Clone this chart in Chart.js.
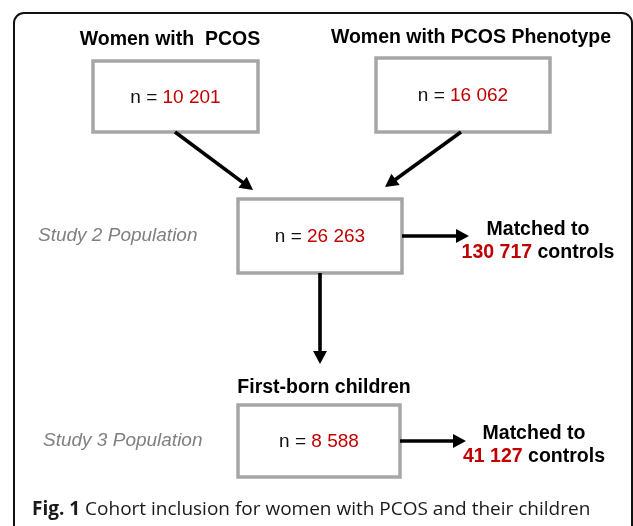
<!DOCTYPE html>
<html>
<head>
<meta charset="utf-8">
<script src="https://cdn.jsdelivr.net/npm/chart.js@4"></script>
<style>
  html, body { margin: 0; padding: 0; background: #ffffff; }
  #wrap { width: 633px; height: 526px; position: relative; }
</style>
</head>
<body>
<div id="wrap"><canvas id="flow"></canvas></div>
<script>
// cohort numbers
const groupTitles = ["Women with  PCOS", "Women with PCOS Phenotype", "", "First-born children"];
const groupCounts = [10201, 16062, 26263, 8588];
const studyLabels = ["Study 2 Population", "Study 3 Population"];
const controlCounts = [130717, 41127];
const captionLabel = "Fig. 1";
const captionText = "Cohort inclusion for women with PCOS and their children";

// layout (page units, same as the canvas)
const nodeX = [175.5, 463, 320, 319];
const nodeY = [96.5, 95, 236, 441];
const nodeW = [165, 174, 164, 162];
const nodeH = [71, 74, 74, 72];
const titleX = [170, 471, 0, 324];
const titleY = [40, 38, 0, 388];
const studyX = [38, 43];
const studyY = [236, 441];
const matchX = [538, 534];
const matchY = [230, 434];
const links = [
  [175, 132, 253, 190],
  [461, 132, 385, 187],
  [402, 236, 469, 236],
  [320, 273, 320, 364],
  [400, 441, 466, 441]
];

const RED = "#c00000";
const fmt = n => String(n).replace(/\B(?=(\d{3})+(?!\d))/g, " ");

function arrow(ctx, x1, y1, x2, y2) {
  const a = Math.atan2(y2 - y1, x2 - x1);
  const head = 13, half = 7;
  const bx = x2 - head * Math.cos(a), by = y2 - head * Math.sin(a);
  ctx.strokeStyle = "#000";
  ctx.lineWidth = 3.6;
  ctx.beginPath();
  ctx.moveTo(x1, y1);
  ctx.lineTo(bx + Math.cos(a), by + Math.sin(a));
  ctx.stroke();
  ctx.fillStyle = "#000";
  ctx.beginPath();
  ctx.moveTo(x2, y2);
  ctx.lineTo(bx + half * Math.sin(a), by - half * Math.cos(a));
  ctx.lineTo(bx - half * Math.sin(a), by + half * Math.cos(a));
  ctx.closePath();
  ctx.fill();
}

// draws text pieces one after the other, each with its own colour
function runs(ctx, parts, x, y, align) {
  let total = 0;
  parts.forEach(p => { ctx.font = p.font; total += ctx.measureText(p.text).width; });
  let cx = align === "center" ? x - total / 2 : x;
  ctx.textAlign = "left";
  parts.forEach(p => {
    ctx.font = p.font;
    ctx.fillStyle = p.color;
    ctx.fillText(p.text, cx, y);
    cx += ctx.measureText(p.text).width;
  });
}

const flowPlugin = {
  id: "flow",
  afterDraw(chart) {
    const ctx = chart.ctx;
    const sx = chart.scales.x, sy = chart.scales.y;
    const px = v => sx.getPixelForValue(v);
    const py = v => sy.getPixelForValue(v);
    const bold = "bold 19.5px 'Liberation Sans', Arial, sans-serif";
    const reg = "19px 'Liberation Sans', Arial, sans-serif";
    const ital = "italic 19px 'Liberation Sans', Arial, sans-serif";
    ctx.save();

    // outer frame
    ctx.strokeStyle = "#111";
    ctx.lineWidth = 2;
    ctx.beginPath();
    ctx.roundRect(px(14), py(13), px(632) - px(14), py(560) - py(13), 10);
    ctx.stroke();

    // boxes
    const meta = chart.getDatasetMeta(0);
    ctx.textBaseline = "middle";
    meta.data.forEach((pt, i) => {
      const w = px(nodeW[i]) - px(0), h = py(nodeH[i]) - py(0);
      ctx.fillStyle = "#fff";
      ctx.fillRect(pt.x - w / 2, pt.y - h / 2, w, h);
      ctx.strokeStyle = "#a6a6a6";
      ctx.lineWidth = 3.5;
      ctx.strokeRect(pt.x - w / 2, pt.y - h / 2, w, h);
      runs(ctx, [
        { text: "n = ", font: reg, color: "#111" },
        { text: fmt(groupCounts[i]), font: reg, color: RED }
      ], pt.x, pt.y + 1, "center");
      if (groupTitles[i]) {
        ctx.font = bold;
        ctx.fillStyle = "#000";
        ctx.textAlign = "center";
        ctx.fillText(groupTitles[i], px(titleX[i]), py(titleY[i]));
      }
    });

    links.forEach(l => arrow(ctx, px(l[0]), py(l[1]), px(l[2]), py(l[3])));

    studyLabels.forEach((s, i) => {
      ctx.font = ital;
      ctx.fillStyle = "#808080";
      ctx.textAlign = "left";
      ctx.fillText(s, px(studyX[i]), py(studyY[i]));
    });

    controlCounts.forEach((c, i) => {
      ctx.font = bold;
      ctx.fillStyle = "#000";
      ctx.textAlign = "center";
      ctx.fillText("Matched to", px(matchX[i]), py(matchY[i]));
      runs(ctx, [
        { text: fmt(c), font: bold, color: RED },
        { text: " controls", font: bold, color: "#000" }
      ], px(matchX[i]), py(matchY[i] + 22.5), "center");
    });

    // caption
    ctx.textBaseline = "alphabetic";
    runs(ctx, [
      { text: captionLabel + " ", font: "bold 19px 'Open Sans', sans-serif", color: "#1a1a1a" },
      { text: captionText, font: "19px 'Open Sans', sans-serif", color: "#1a1a1a" }
    ], px(32), py(515), "left");

    ctx.restore();
  }
};

new Chart(document.getElementById("flow"), {
  type: "scatter",
  data: {
    datasets: [{
      label: "Cohorts",
      data: groupCounts.map((n, i) => ({ x: nodeX[i], y: nodeY[i], n: n })),
      pointRadius: 0,
      pointHoverRadius: 0
    }]
  },
  options: {
    responsive: true,
    maintainAspectRatio: false,
    animation: false,
    layout: { padding: 0 },
    plugins: { legend: { display: false }, tooltip: { enabled: false } },
    scales: {
      x: { type: "linear", min: 0, max: 633, display: false },
      y: { type: "linear", min: 0, max: 526, reverse: true, display: false }
    }
  },
  plugins: [flowPlugin]
});
</script>
</body>
</html>
